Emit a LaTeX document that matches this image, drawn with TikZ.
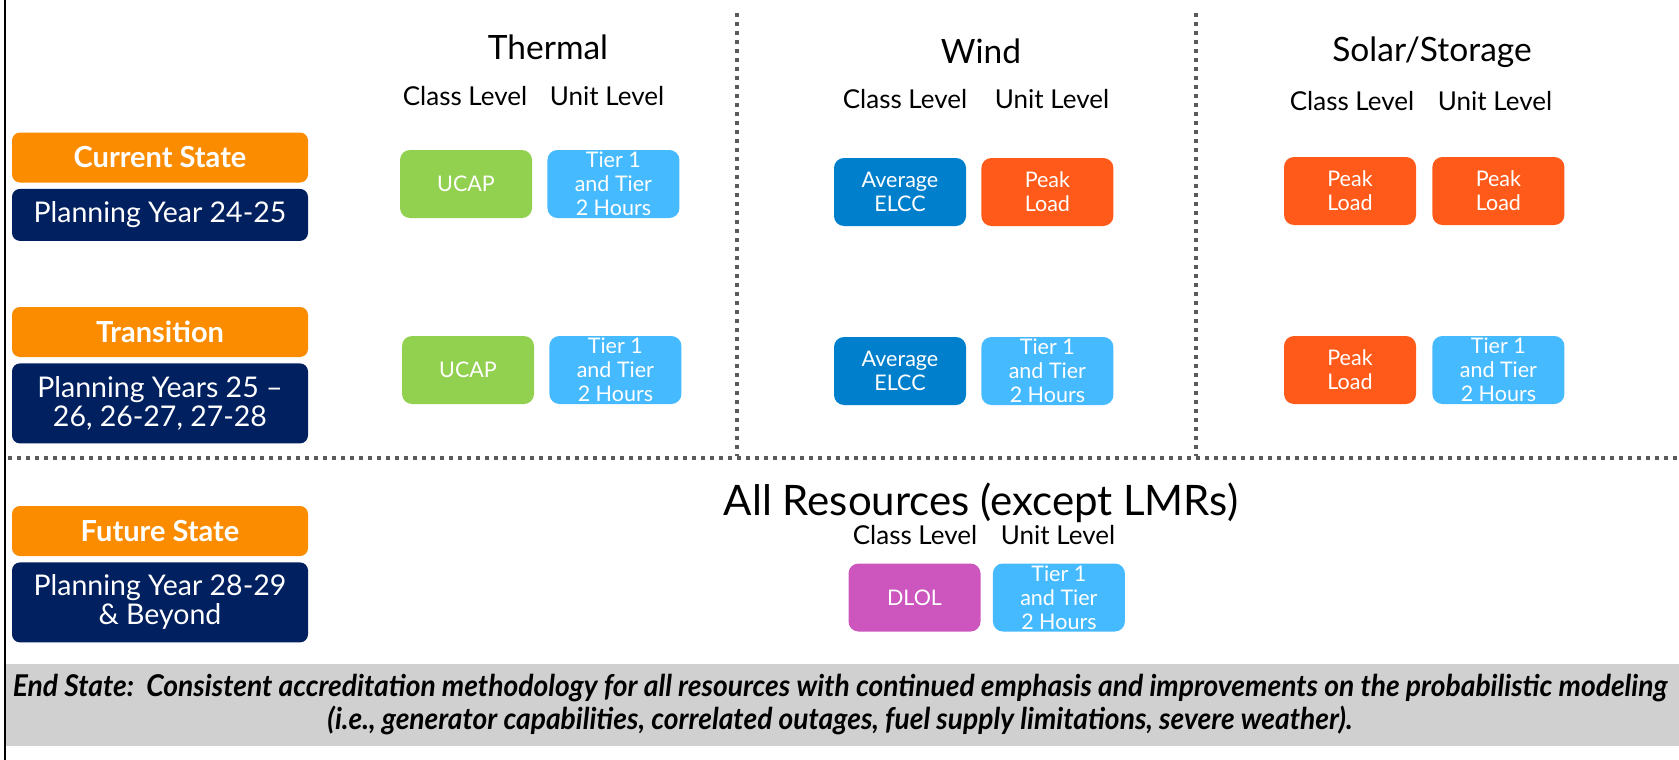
\documentclass[tikz,border=0pt]{standalone}
\usepackage{fontspec}
\setmainfont{Lato}
\newfontfamily\endfont[FakeStretch=0.94]{Lato}
\usepackage{tikz}
\usetikzlibrary{positioning}

\definecolor{stateorange}{RGB}{251,140,0}
\definecolor{yearnavy}{RGB}{0,32,96}
\definecolor{ucapgreen}{RGB}{146,208,80}
\definecolor{tierblue}{RGB}{70,186,255}
\definecolor{elccblue}{RGB}{0,128,204}
\definecolor{peakred}{RGB}{255,90,25}
\definecolor{dlolpink}{RGB}{204,85,190}
\definecolor{bandgray}{RGB}{208,208,208}
\definecolor{dotgray}{RGB}{90,90,90}

\begin{document}
\begin{tikzpicture}[x=1pt, y=-1pt,
	state/.style   = {rounded corners=8pt, fill=stateorange, text=white, inner sep=0pt,
	                  minimum width=296pt, minimum height=50pt, font=\fontsize{29}{32}\selectfont\bfseries},
	years/.style   = {rounded corners=8pt, fill=yearnavy, text=white, inner sep=0pt, align=center,
	                  minimum width=296pt, font=\fontsize{28.5}{29}\selectfont},
	method/.style  = {rounded corners=10pt, text=white, inner sep=0pt, align=center,
	                  minimum width=132pt, minimum height=68pt, font=\fontsize{21.5}{24}\selectfont},
	ucap/.style    = {method, fill=ucapgreen},
	tier/.style    = {method, fill=tierblue},
	elcc/.style    = {method, fill=elccblue},
	peak/.style    = {method, fill=peakred},
	dlol/.style    = {method, fill=dlolpink},
	heading/.style = {font=\fontsize{33.5}{36}\selectfont},
	level/.style   = {font=\fontsize{26}{30}\selectfont},
	divider/.style = {dotgray, line width=4pt, dash pattern=on 4pt off 5pt}]

	\useasboundingbox (0,0) rectangle (1679,760);

	% frame, band and dividers
	\fill[bandgray] (6,664) rectangle (1679,746);
	\draw[black, line width=2.5pt] (5,0) -- (5,760);
	\draw[divider] (8,458) -- (1679,458);
	\draw[divider] (737,13) -- (737,456);
	\draw[divider] (1196,13) -- (1196,456);

	% states on the left
	\node[state] (current) at (160,157.5) {Current State};
	\node[years, minimum height=52pt] (py1) [below = 6pt of current] {Planning Year 24-25};
	\node[state] (transition) at (160,332) {Transition};
	\node[years, minimum height=80pt] (py2) [below = 6pt of transition] {Planning Years 25 --\\26, 26-27, 27-28};
	\node[state] (future) at (160,531) {Future State};
	\node[years, minimum height=80pt] (py3) [below = 6pt of future] {Planning Year 28-29\\\& Beyond};

	% thermal
	\node[heading] (thermal) at (548,47) {Thermal};
	\node[level] (thclass) at (465,96) {Class Level};
	\node[level] (thunit)  at (607,96) {Unit Level};
	\node[ucap] (thA) at (466,184) {UCAP};
	\node[tier] (thB) [right = 15pt of thA] {Tier 1\\and Tier\\2 Hours};
	\node[ucap] (thC) at (468,370) {UCAP};
	\node[tier] (thD) [right = 15pt of thC] {Tier 1\\and Tier\\2 Hours};

	% wind
	\node[heading] (wind) at (981,51) {Wind};
	\node[level] (wiclass) at (905,99) {Class Level};
	\node[level] (wiunit)  at (1052,99) {Unit Level};
	\node[elcc] (wiA) at (900,192) {Average\\ELCC};
	\node[peak] (wiB) [right = 15pt of wiA] {Peak\\Load};
	\node[elcc] (wiC) at (900,371) {Average\\ELCC};
	\node[tier] (wiD) [right = 15pt of wiC] {Tier 1\\and Tier\\2 Hours};

	% solar / storage
	\node[heading] (solar) at (1432,52) {Solar/Storage};
	\node[level] (soclass) at (1352,101) {Class Level};
	\node[level] (sounit)  at (1495,101) {Unit Level};
	\node[peak] (soA) at (1350,191) {Peak\\Load};
	\node[peak] (soB) [right = 16pt of soA] {Peak\\Load};
	\node[peak] (soC) at (1350,370) {Peak\\Load};
	\node[tier] (soD) [right = 16pt of soC] {Tier 1\\and Tier\\2 Hours};

	% all resources
	\node[font=\fontsize{42}{46}\selectfont] (allres) at (981,503) {All Resources (except LMRs)};
	\node[level] (alclass) at (915,535) {Class Level};
	\node[level] (alunit)  at (1058,535) {Unit Level};
	\node[dlol] (alA) at (914.5,597.5) {DLOL};
	\node[tier] (alB) [right = 12pt of alA] {Tier 1\\and Tier\\2 Hours};

	% end state
	\node[align=center, font=\endfont\fontsize{30}{33}\selectfont\bfseries\itshape] (endstate) at (840,705)
		{End State:\ \ Consistent accreditation methodology for all resources with continued emphasis and improvements on the probabilistic modeling\\(i.e., generator capabilities, correlated outages, fuel supply limitations, severe weather).};
\end{tikzpicture}
\end{document}
